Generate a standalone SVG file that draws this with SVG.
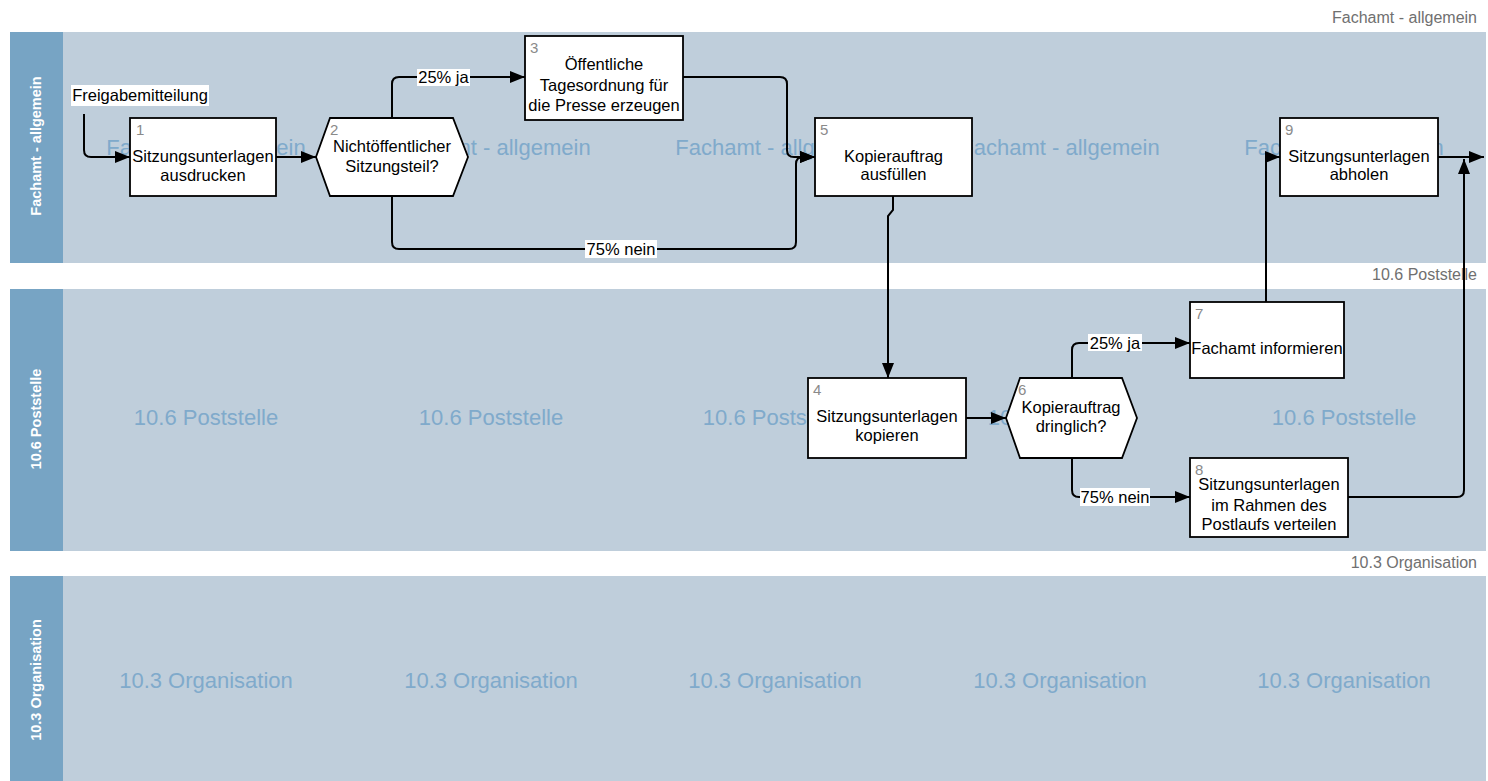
<svg xmlns="http://www.w3.org/2000/svg" width="1488" height="781" viewBox="0 0 1488 781">
<style>
.lane{fill:#bfcedb}
.hdr{fill:#77a4c4}
.hdrt{font-family:"Liberation Sans",Arial,sans-serif;font-size:14.5px;font-weight:bold;fill:#ffffff;text-anchor:middle;dominant-baseline:central}
.wm{font-family:"Liberation Sans",Arial,sans-serif;font-size:22px;fill:#80aacb;text-anchor:middle}
.lbl{font-family:"Liberation Sans",Arial,sans-serif;font-size:16px;fill:#707070;text-anchor:end}
.box{fill:#ffffff;stroke:#000000;stroke-width:1.8}
.t{font-family:"Liberation Sans",Arial,sans-serif;font-size:16.5px;fill:#000000;text-anchor:middle}
.num{font-family:"Liberation Sans",Arial,sans-serif;font-size:15px;fill:#8a8a8a}
.c{fill:none;stroke:#000000;stroke-width:2;marker-end:url(#ah)}
.cn{fill:none;stroke:#000000;stroke-width:2}
.lb{fill:#ffffff}
.lt{font-family:"Liberation Sans",Arial,sans-serif;font-size:16.5px;fill:#000000;text-anchor:middle}
</style>
<defs>
<marker id="ah" markerUnits="userSpaceOnUse" markerWidth="16" markerHeight="14" refX="15" refY="6" orient="auto">
<path d="M0,0 L15,6 L0,12 z" fill="#000000"/>
</marker>
</defs>
<rect x="0" y="0" width="1488" height="781" fill="#ffffff"/>

<g id="lanes">
<g id="lane1">
<rect class="lane" x="10" y="32" width="1476" height="231"/>
<rect class="hdr" x="10" y="32" width="53" height="231"/>
<text class="hdrt" transform="translate(36,146) rotate(-90)">Fachamt - allgemein</text>
<text class="lbl" x="1477" y="23">Fachamt - allgemein</text>
<text class="wm" x="206" y="155">Fachamt - allgemein</text>
<text class="wm" x="491" y="155">Fachamt - allgemein</text>
<text class="wm" x="775" y="155">Fachamt - allgemein</text>
<text class="wm" x="1060" y="155">Fachamt - allgemein</text>
<text class="wm" x="1344" y="155">Fachamt - allgemein</text>
</g>
<g id="lane2">
<rect class="lane" x="10" y="289" width="1476" height="262"/>
<rect class="hdr" x="10" y="289" width="53" height="262"/>
<text class="hdrt" transform="translate(36,419) rotate(-90)">10.6 Poststelle</text>
<text class="lbl" x="1477" y="280">10.6 Poststelle</text>
<text class="wm" x="206" y="425">10.6 Poststelle</text>
<text class="wm" x="491" y="425">10.6 Poststelle</text>
<text class="wm" x="775" y="425">10.6 Poststelle</text>
<text class="wm" x="1060" y="425">10.6 Poststelle</text>
<text class="wm" x="1344" y="425">10.6 Poststelle</text>
</g>
<g id="lane3">
<rect class="lane" x="10" y="576" width="1476" height="205"/>
<rect class="hdr" x="10" y="576" width="53" height="205"/>
<text class="hdrt" transform="translate(36,680) rotate(-90)">10.3 Organisation</text>
<text class="lbl" x="1477" y="568">10.3 Organisation</text>
<text class="wm" x="206" y="688">10.3 Organisation</text>
<text class="wm" x="491" y="688">10.3 Organisation</text>
<text class="wm" x="775" y="688">10.3 Organisation</text>
<text class="wm" x="1060" y="688">10.3 Organisation</text>
<text class="wm" x="1344" y="688">10.3 Organisation</text>
</g>
</g>

<g id="connectors">
<path class="c" d="M84,114 V150 Q84,157 91,157 H130"/>
<path class="c" d="M276,157 H316"/>
<path class="c" d="M392,118 V84 Q392,77 399,77 H525"/>
<path class="c" d="M392,196 V242 Q392,249 399,249 H789 Q796,249 796,242 V164 Q796,157 803,157 H815"/>
<path class="c" d="M683,77 H780 Q787,77 787,84 V150 Q787,157 794,157 H815"/>
<path class="c" d="M893,196 V210 L888,216 V378"/>
<path class="c" d="M966,418 H1006"/>
<path class="c" d="M1072,378 V350 Q1072,343 1079,343 H1190"/>
<path class="c" d="M1072,458 V490 Q1072,497 1079,497 H1190"/>
<path class="c" d="M1266,302 V157 H1280"/>
<path class="c" d="M1348,497 H1457 Q1464,497 1464,490 V159"/>
<path class="c" d="M1438,157 H1484"/>
<g id="labels">
<rect class="lb" x="71" y="85" width="138" height="21"/>
<text class="lt" x="140" y="101">Freigabemitteilung</text>
<rect class="lb" x="417" y="69" width="53" height="17"/>
<text class="lt" x="443.5" y="83">25% ja</text>
<rect class="lb" x="585" y="240" width="72" height="18"/>
<text class="lt" x="621" y="255">75% nein</text>
<rect class="lb" x="1088" y="334" width="54" height="17"/>
<text class="lt" x="1115" y="349">25% ja</text>
<rect class="lb" x="1080" y="488" width="70" height="18"/>
<text class="lt" x="1115" y="503">75% nein</text>
</g>
</g>

<g id="node1">
<rect class="box" x="130" y="118" width="146" height="78"/>
<text class="num" x="136" y="135">1</text>
<text class="t" x="203" y="162">Sitzungsunterlagen</text>
<text class="t" x="203" y="181">ausdrucken</text>
</g>
<g id="node2">
<polygon class="box" points="330,118 453,118 468,157 453,196 330,196 316,157"/>
<text class="num" x="330" y="135">2</text>
<text class="t" x="392" y="152">Nichtöffentlicher</text>
<text class="t" x="392" y="172">Sitzungsteil?</text>
</g>
<g id="node3">
<rect class="box" x="525" y="36" width="158" height="84"/>
<text class="num" x="530" y="53">3</text>
<text class="t" x="604" y="70">Öffentliche</text>
<text class="t" x="604" y="90.5">Tagesordnung für</text>
<text class="t" x="604" y="111">die Presse erzeugen</text>
</g>
<g id="node5">
<rect class="box" x="815" y="118" width="157" height="78"/>
<text class="num" x="820" y="135">5</text>
<text class="t" x="893.5" y="162">Kopierauftrag</text>
<text class="t" x="893.5" y="180">ausfüllen</text>
</g>
<g id="node9">
<rect class="box" x="1280" y="118" width="158" height="78"/>
<text class="num" x="1285" y="135">9</text>
<text class="t" x="1359" y="162">Sitzungsunterlagen</text>
<text class="t" x="1359" y="180">abholen</text>
</g>
<g id="node4">
<rect class="box" x="808" y="378" width="158" height="80"/>
<text class="num" x="813" y="395">4</text>
<text class="t" x="887" y="422">Sitzungsunterlagen</text>
<text class="t" x="887" y="441">kopieren</text>
</g>
<g id="node6">
<polygon class="box" points="1020,378 1122,378 1137,418 1122,458 1020,458 1006,418"/>
<text class="num" x="1018" y="395">6</text>
<text class="t" x="1071" y="413">Kopierauftrag</text>
<text class="t" x="1071" y="432">dringlich?</text>
</g>
<g id="node7">
<rect class="box" x="1190" y="302" width="154" height="76"/>
<text class="num" x="1195" y="319">7</text>
<text class="t" x="1267" y="354">Fachamt informieren</text>
</g>
<g id="node8">
<rect class="box" x="1190" y="458" width="158" height="79"/>
<text class="num" x="1195" y="475">8</text>
<text class="t" x="1269" y="490">Sitzungsunterlagen</text>
<text class="t" x="1269" y="511">im Rahmen des</text>
<text class="t" x="1269" y="530">Postlaufs verteilen</text>
</g>
</svg>
